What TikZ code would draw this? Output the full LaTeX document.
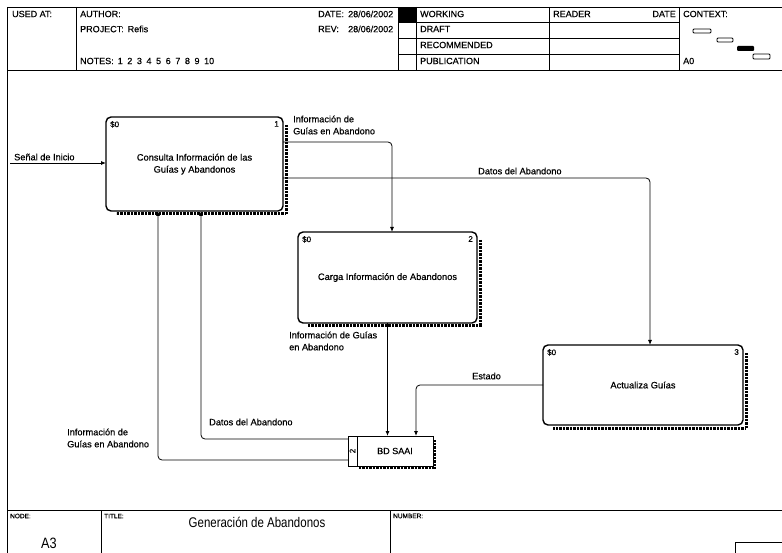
\documentclass[tikz,border=0pt]{standalone}
\usepackage{fontspec}
\setmainfont{Liberation Sans}
\newfontfamily\heavyfont{Liberation Sans}[FakeBold=0.4]
\usetikzlibrary{arrows.meta,calc,backgrounds}
\begin{document}
\begin{tikzpicture}[x=1pt,y=-1pt,
 lbl/.style={font=\heavyfont\fontsize{9.2}{12}\selectfont, inner sep=0pt, anchor=west, align=left},
 hdr/.style={font=\heavyfont\fontsize{9}{10}\selectfont, inner sep=0pt, anchor=west},
 act/.style={draw, line width=1.4pt, rounded corners=5pt, fill=white, outer sep=0pt, inner sep=0pt, align=center, font=\heavyfont\fontsize{9.3}{13}\selectfont},
 arr/.style={line width=0.8pt, rounded corners=4pt, -{Latex[length=5pt,width=4pt]}},
 ln/.style={line width=0.9pt},
 hatch/.style={line width=3pt, dash pattern=on 0.7pt off 0.7pt},
 corner/.style={font=\heavyfont\fontsize{8}{9}\selectfont, inner sep=0pt}
]
\useasboundingbox (0,0) rectangle (782,553);
% ---------- frame and header ----------
\draw[ln] (7,7) -- (782,7);
\draw[ln] (7,7) -- (7,553);
\draw[ln] (7,70) -- (782,70);
\foreach \x in {76,398,416,549,679} \draw[ln] (\x,7) -- (\x,70);
\foreach \y in {22,38,54} \draw[ln] (398,\y) -- (679,\y);
\fill (398,7) rectangle (416,22);
\node[hdr] (usedat) at (12,14) {USED AT:};
\node[hdr] (author) at (80,14) {AUTHOR:};
\node[hdr] (project) at (80,29) {PROJECT:\hspace{4pt}Refis};
\node[hdr] (notes) at (80,61) {NOTES:\hspace{4pt}1\hspace{4.6pt}2\hspace{4.6pt}3\hspace{4.6pt}4\hspace{4.6pt}5\hspace{4.6pt}6\hspace{4.6pt}7\hspace{4.6pt}8\hspace{4.6pt}9\hspace{4.6pt}10};
\node[hdr] (datel) at (318,14) {DATE:};
\node[hdr] (datev) at (348,14) {28/06/2002};
\node[hdr] (revl) at (318,29) {REV:};
\node[hdr] (revv) at (348,29) {28/06/2002};
\node[hdr] (working) at (420,14) {WORKING};
\node[hdr] (draft) at (420,29) {DRAFT};
\node[hdr] (recom) at (420,45) {RECOMMENDED};
\node[hdr] (publ) at (420,61) {PUBLICATION};
\node[hdr] (reader) at (553,14) {READER};
\node[hdr,anchor=east] (rdate) at (676,14) {DATE};
\node[hdr] (context) at (683,14) {CONTEXT:};
\node[hdr] (a0) at (683,61) {A0};
\draw[line width=0.8pt, rounded corners=1pt] (693,29) rectangle (711,33);
\draw[line width=0.8pt, rounded corners=1pt] (717,38) rectangle (733,42);
\fill[rounded corners=1pt] (737,46) rectangle (754,51);
\draw[line width=0.8pt, rounded corners=1pt] (753,54) rectangle (770,59);
% ---------- footer ----------
\draw[ln] (7,510) -- (782,510);
\draw[ln] (101,510) -- (101,553);
\draw[ln] (390,510) -- (390,553);
\draw[line width=0.7pt] (735,553) |- (782,542);
\node[hdr, font=\heavyfont\fontsize{6.5}{7}\selectfont] (nodel) at (10,516) {NODE:};
\node[hdr, font=\heavyfont\fontsize{6.5}{7}\selectfont] (titlel) at (104,516) {TITLE:};
\node[hdr, font=\heavyfont\fontsize{6.5}{7}\selectfont] (numl) at (393,516) {NUMBER:};
\node[inner sep=0pt, font=\fontsize{15}{16}\selectfont] (nodeid) at (49,543) {\scalebox{0.85}[1]{A3}};
\node[inner sep=0pt, font=\fontsize{14}{15}\selectfont] (title) at (257,522) {\scalebox{0.82}[1]{Generación de Abandonos}};
% ---------- activity boxes ----------
\node[act, minimum width=177pt, minimum height=94pt] (b1) at (194.5,164) {\raisebox{-5pt}{\begin{tabular}{@{}c@{}}Consulta Información de las\\[-1pt]Guías y Abandonos\end{tabular}}};
\node[act, minimum width=179pt, minimum height=91pt] (b2) at (387.5,277.5) {Carga Información de Abandonos};
\node[act, minimum width=200pt, minimum height=80pt] (b3) at (643,385) {Actualiza Guías};
\node[draw, line width=1pt, fill=white, outer sep=0pt, minimum width=76pt, minimum height=30pt, font=\heavyfont\fontsize{9}{10}\selectfont] (db) at (395,451) {BD SAAI};
\node[draw, line width=1pt, fill=white, outer sep=0pt, inner sep=0pt, minimum width=9pt, minimum height=30pt, anchor=east, font=\heavyfont\fontsize{8}{9}\selectfont] (dbn) at (db.west) {\rotatebox{90}{2}};
\begin{scope}[on background layer]
  \foreach \b in {b1,b2,b3}{
    \draw[hatch] ([shift={(3pt,-8pt)}]\b.north east) -- ([shift={(3pt,-3pt)}]\b.south east) -- ([shift={(10pt,-3pt)}]\b.south west);
  }
  \draw[hatch, line width=2.5pt] ([shift={(2pt,-4pt)}]db.north east) -- ([shift={(2pt,-2pt)}]db.south east) -- ([shift={(2pt,-2pt)}]db.south west);
\end{scope}
% corner labels
\node[corner, anchor=north west] (c1) at ([shift={(4pt,-4pt)}]b1.north west) {\$0};
\node[corner, anchor=north east] (n1) at ([shift={(-4pt,-4pt)}]b1.north east) {1};
\node[corner, anchor=north west] (c2) at ([shift={(4pt,-4pt)}]b2.north west) {\$0};
\node[corner, anchor=north east] (n2) at ([shift={(-4pt,-4pt)}]b2.north east) {2};
\node[corner, anchor=north west] (c3) at ([shift={(4pt,-4pt)}]b3.north west) {\$0};
\node[corner, anchor=north east] (n3) at ([shift={(-4pt,-4pt)}]b3.north east) {3};
% ---------- connectors ----------
\coordinate (src) at (10,163);
\draw[arr] (src) -- (src -| b1.west);
\node[lbl] (l1) at (14,157) {Señal de Inicio};

\draw[arr] ([yshift=-25pt]b1.north east) -| ([xshift=4.5pt]b2.north);
\node[lbl] (l2) at (293,125) {Información de\\Guías en Abandono};

\draw[arr] ([yshift=-61pt]b1.north east) -| ([xshift=7pt]b3.north);
\node[lbl] (l3) at (478,171) {Datos del Abandono};

\draw[arr] (b2.south) -- (b2.south |- db.north);
\node[lbl] (l4) at (289,341) {Información de Guías\\en Abandono};

\draw[arr] (b3.west) -| ([xshift=21pt]db.north);
\node[lbl] (l5) at (472,376) {Estado};

\draw[arr] ([yshift=-3pt]dbn.north west) -| ([xshift=6.5pt]b1.south);
\node[lbl] (l6) at (209,422) {Datos del Abandono};

\draw[arr] ([yshift=-24pt]dbn.north west) -| ([xshift=-36.5pt]b1.south);
\node[lbl] (l7) at (67,438) {Información de\\Guías en Abandono};
\end{tikzpicture}
\end{document}
